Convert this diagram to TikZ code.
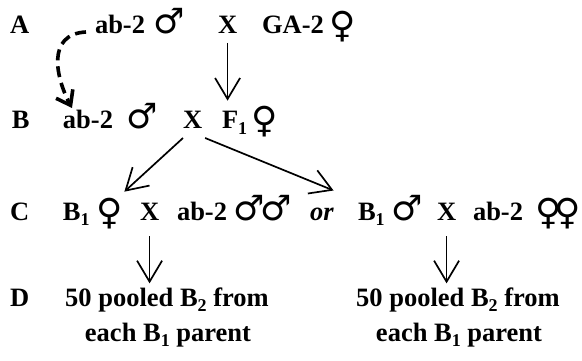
\documentclass[tikz,border=0pt]{standalone}
\usepackage{fontspec}
\setmainfont{Liberation Serif}
\newfontfamily\symfont{DejaVu Sans}
\usetikzlibrary{arrows.meta,calc}
\newcommand\lowidx[1]{\raisebox{-0.22em}{\fontsize{18}{20}\selectfont #1}}
\begin{document}
\begin{tikzpicture}[x=1pt,y=-1pt,
  every node/.style={inner sep=0pt,outer sep=0pt,anchor=base west,
    font=\fontsize{26.5}{30}\selectfont\bfseries},
  msym/.style={font=\fontsize{35}{38}\selectfont\symfont},
  fsym/.style={font=\fontsize{36}{40}\selectfont\symfont,yshift=-4pt},
  mid/.style={anchor=base},
  arr/.style={line width=1.7pt,-{Straight Barb[length=21pt,width=25pt]}},
  darr/.style={line width=3.6pt,dash pattern=on 11pt off 6pt,
    -{Straight Barb[length=13pt,width=19pt]}}]
\fill[white] (0,0) rectangle (582,361);
\useasboundingbox (0,0) rectangle (582,361);
% row A
\node (lA) at (10,34) {A};
\node (abA) at (95,34) {ab-2};
\node[msym] (mA) at (153,34) {♂};
\node (XA) at (218,34) {X};
\node (GA) at (262,34) {GA-2};
\node[fsym] (fA) at (329,34) {♀};
% row B
\node (lB) at (12,129) {B};
\node (abB) at (63,129) {ab-2};
\node[msym] (mB) at (126,129) {♂};
\node (XB) at (183,129) {X};
\node (F1) at (222,129) {F\lowidx{1}};
\node[fsym] (fB) at (251,129) {♀};
% row C
\node (lC) at (10,220) {C};
\node (B1a) at (63,220) {B\lowidx{1}};
\node[fsym] (fC1) at (96,220) {♀};
\node (XC1) at (140,220) {X};
\node (abC1) at (177,220) {ab-2};
\node[msym] (mC1) at (233,220) {♂\kern-4pt♂};
\node (or) at (310,220) {\itshape or};
\node (B1b) at (358,220) {B\lowidx{1}};
\node[msym] (mC2) at (391,220) {♂};
\node (XC2) at (437,220) {X};
\node (abC2) at (473,220) {ab-2};
\node[fsym] (fC2) at (535,220) {♀\kern-7pt♀};
% row D
\node (lD) at (10,306) {D};
\node[mid] (D1a) at (167,306) {50 pooled B\lowidx{2} from};
\node[mid] (D1b) at (168,341) {each B\lowidx{1} parent};
\node[mid] (D2a) at (458,306) {50 pooled B\lowidx{2} from};
\node[mid] (D2b) at (459,341) {each B\lowidx{1} parent};
% connectors
\coordinate (ds) at ($(abA.base west)+(-9,-2)$);
\draw[darr] (ds) .. controls (46,34) and (56,78) .. ($(abB.base west)+(9,-21)$);
\draw[arr,shorten <=9pt] (XA.south) -- ($(XA.south |- F1.north)+(0,-11)$);
\draw[arr] ($(XB.south west)+(0,9)$) -- ($(fC1.north east)+(2,-6)$);
\draw[arr] ($(XB.south east)+(3,9)$) -- ($(or.north east)+(0,-17)$);
\draw[arr,shorten <=16pt] (XC1.south) -- ($(XC1.south |- D1a.north)+(0,-4)$);
\draw[arr,shorten <=16pt] (XC2.south) -- ($(XC2.south |- D2a.north)+(0,-4)$);
\end{tikzpicture}
\end{document}
